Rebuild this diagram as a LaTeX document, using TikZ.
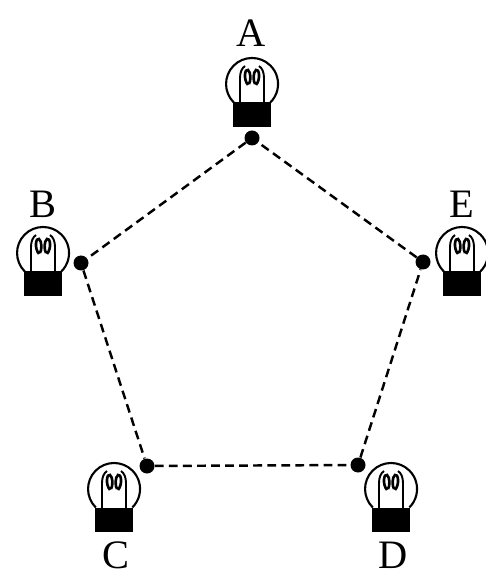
\documentclass[tikz,border=0pt]{standalone}
\usepackage{fontspec}
\setmainfont{Liberation Serif}
\tikzset{
  junction/.style={circle,fill=black,inner sep=0pt,minimum size=15\unitpx},
  lampname/.style={font=\fontsize{23}{25}\selectfont,inner sep=0pt},
  wire/.style={line width=1.4pt,dash pattern=on 5pt off 3pt},
  lamp/.pic={
    \draw[line width=1.2pt] (-18.2,18.5) arc(134.6:405.4:26);
    \fill (-19,18.5) rectangle (19,43);
    \draw[line width=1.1pt] (-12,19) -- (-12,-6) .. controls (-12,-12) and (-10,-16) .. (-7,-18);
    \draw[line width=1.1pt] (12,19) -- (12,-6) .. controls (12,-12) and (10,-16) .. (7,-18);
    \draw[line width=1.5pt] (-4,1) .. controls (-9,-5) and (-7,-16) .. (-4,-14) .. controls (-1,-12) and (-1,-3) .. (-3,0);
    \draw[line width=1.5pt] (4,1) .. controls (9,-5) and (7,-16) .. (4,-14) .. controls (1,-12) and (1,-3) .. (3,0);
  }
}
\newlength{\unitpx}
\setlength{\unitpx}{0.02cm}
\begin{document}
\begin{tikzpicture}[x=0.02cm,y=-0.02cm]
   \useasboundingbox (0,0) rectangle (485,573);
   % contacts
   \node[junction] (a) at (252,138) {};
   \node[junction] (b) at (81,263) {};
   \node[junction] (c) at (147,466) {};
   \node[junction] (d) at (358,465) {};
   \node[junction] (e) at (423,262) {};
   \draw[wire] (a) -- (b);
   \draw[wire] (b) -- (c);
   \draw[wire] (c) -- (d);
   \draw[wire] (d) -- (e);
   \draw[wire] (e) -- (a);
   % lamps
   \pic at (252,84) {lamp};
   \pic at (43,253) {lamp};
   \pic at (114,489) {lamp};
   \pic at (391,489) {lamp};
   \pic at (462,253) {lamp};
   % names
   \node[lampname] (nameA) at (251,33) {A};
   \node[lampname] (nameB) at (43,204) {B};
   \node[lampname] (nameC) at (116,555) {C};
   \node[lampname] (nameD) at (393,555) {D};
   \node[lampname] (nameE) at (462,204) {E};
\end{tikzpicture}
\end{document}
